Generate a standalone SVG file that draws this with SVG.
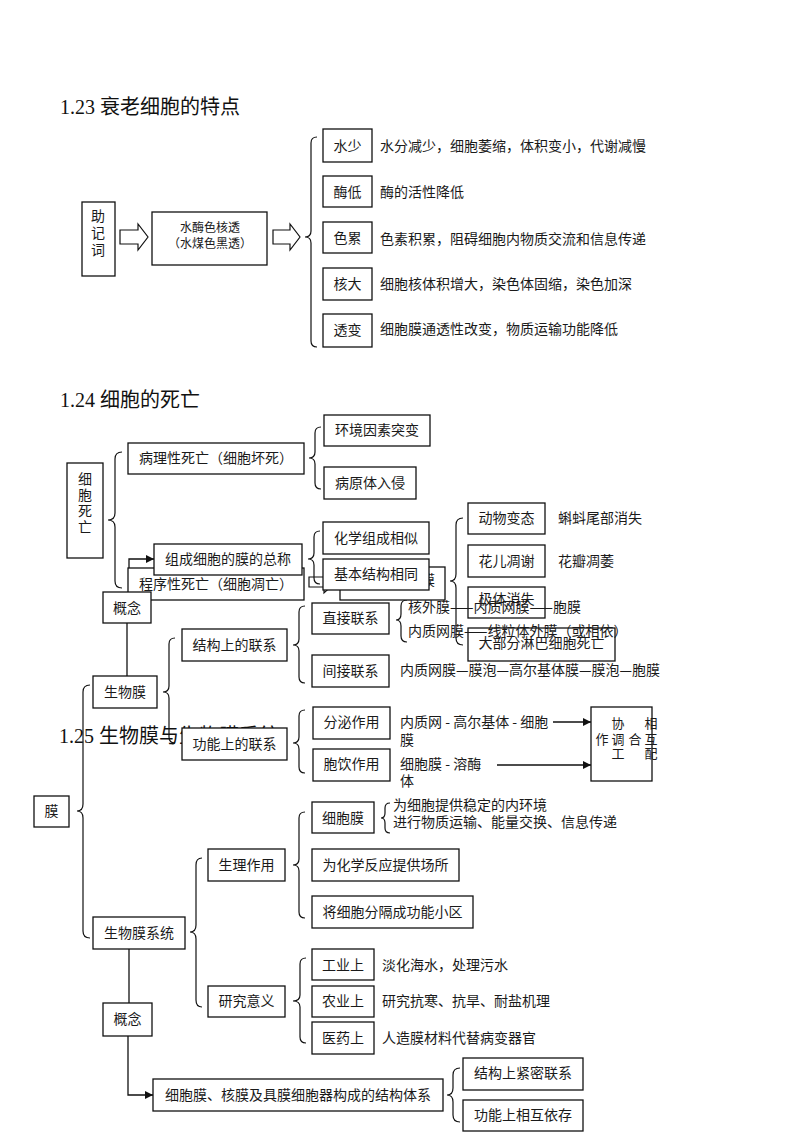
<svg xmlns="http://www.w3.org/2000/svg" width="800" height="1132" viewBox="0 0 800 1132">
<defs>
<style>
.bg{fill:#fff}
.b{fill:#fff;stroke:#111;stroke-width:1.3}
.t{font-family:"Noto Sans CJK SC","Noto Sans CJK JP",sans-serif;font-size:14px;fill:#1a1a1a}
.c{text-anchor:middle}
.s12{font-size:12px}
.s13{font-size:13px}
.ttl{font-family:"Liberation Serif","Noto Sans CJK SC",serif;font-size:20px;fill:#111}
.br{fill:none;stroke:#111;stroke-width:1.2}
.ln{fill:none;stroke:#111;stroke-width:1.3}
.ha{fill:#fff;stroke:#111;stroke-width:1.2}
</style>
<marker id="ah" viewBox="0 0 10 10" markerWidth="9" markerHeight="8" refX="10" refY="5" orient="auto" markerUnits="userSpaceOnUse">
<path d="M0,0 L10,5 L0,10 z" fill="#111"/>
</marker>
</defs>
<rect class="bg" x="0" y="0" width="800" height="1132"/>

<g id="titles">
<text class="ttl" x="60" y="114">1.23 衰老细胞的特点</text>
<text class="ttl" x="60" y="407">1.24 细胞的死亡</text>
<text class="ttl" x="59" y="743">1.25 生物膜与生物膜系统</text>
</g>

<g id="connectors">
<!-- 1.23 -->
<polygon class="ha" points="120,230 138,230 138,224 148,237 138,250 138,244 120,244"/>
<polygon class="ha" points="273,230 290,230 290,224 300,237 290,250 290,244 273,244"/>
<path class="br" d="M317,137 Q311,137 311,143 L311,231 Q311,237 305,237 Q311,237 311,243 L311,341 Q311,347 317,347"/>
<!-- 1.24 -->
<path class="br" d="M122,452 Q115,452 115,459 L115,513 Q115,520 108,520 Q115,520 115,527 L115,581 Q115,588 122,588"/>
<path class="br" d="M321,427 Q315,427 315,433 L315,452 Q315,458 309,458 Q315,458 315,464 L315,483 Q315,489 321,489"/>
<polygon class="ha" points="309,577 324,577 324,571 336,582 324,593 324,587 309,587"/>
<path class="br" d="M463,518 Q456,518 456,525 L456,574 Q456,581 450,581 Q456,581 456,588 L456,638 Q456,645 463,645"/>
<!-- 1.25 -->
<path class="br" d="M320,531 Q314,531 314,537 L314,553 Q314,559 308,559 Q314,559 314,565 L314,578 Q314,584 320,584"/>
<polyline class="ln" points="129,592 129,559 154,559" marker-end="url(#ah)"/>
<line class="ln" x1="127" y1="623" x2="127" y2="676"/>
<path class="br" d="M175,638 Q169,638 169,644 L169,686 Q169,692 163,692 Q169,692 169,698 L169,737 Q169,743 175,743"/>
<path class="br" d="M90,685 Q83,685 83,692 L83,804 Q83,811 77,811 Q83,811 83,818 L83,931 Q83,938 90,938"/>
<path class="br" d="M305,606 Q299,606 299,612 L299,639 Q299,645 293,645 Q299,645 299,651 L299,677 Q299,683 305,683"/>
<path class="br" d="M407,600 Q401,600 401,606 L401,614 Q401,620 396,620 Q401,620 401,626 L401,636 Q401,642 407,642"/>
<path class="br" d="M305,710 Q299,710 299,716 L299,737 Q299,743 293,743 Q299,743 299,749 L299,767 Q299,773 305,773"/>
<line class="ln" x1="553" y1="722" x2="591" y2="722" marker-end="url(#ah)"/>
<line class="ln" x1="497" y1="765" x2="591" y2="765" marker-end="url(#ah)"/>
<path class="br" d="M390,803 Q385,803 385,808 L385,813 Q385,818 381,818 Q385,818 385,823 L385,828 Q385,833 390,833"/>
<path class="br" d="M305,812 Q299,812 299,818 L299,859 Q299,865 293,865 Q299,865 299,871 L299,912 Q299,918 305,918"/>
<path class="br" d="M202,858 Q196,858 196,865 L196,925 Q196,932 190,932 Q196,932 196,939 L196,1000 Q196,1007 202,1007"/>
<path class="br" d="M306,958 Q300,958 300,964 L300,995 Q300,1001 293,1001 Q300,1001 300,1007 L300,1037 Q300,1043 306,1043"/>
<line class="ln" x1="129" y1="949" x2="129" y2="1003"/>
<polyline class="ln" points="128,1036 128,1095 153,1095" marker-end="url(#ah)"/>
<path class="br" d="M460,1068 Q453,1068 453,1075 L453,1088 Q453,1095 447,1095 Q453,1095 453,1102 L453,1115 Q453,1122 460,1122"/>
</g>

<g id="sec123">
<g id="n-zjc"><rect class="b" x="82" y="202" width="33" height="74"/>
<text class="t c" x="98" y="221">助</text><text class="t c" x="98" y="238">记</text><text class="t c" x="98" y="255">词</text></g>
<g id="n-mnemonic"><rect class="b" x="152" y="212" width="115" height="53"/>
<text class="t c s12" x="210" y="231.5">水酶色核透</text><text class="t c s12" x="210" y="247.5">（水煤色黑透）</text></g>
<g id="n-ss"><rect class="b" x="323" y="129" width="49" height="33"/><text class="t c" x="347.5" y="151">水少</text>
<text class="t" x="380" y="151">水分减少，细胞萎缩，体积变小，代谢减慢</text></g>
<g id="n-md"><rect class="b" x="323" y="176" width="49" height="31"/><text class="t c" x="347.5" y="197">酶低</text>
<text class="t" x="380" y="197">酶的活性降低</text></g>
<g id="n-sl"><rect class="b" x="323" y="222" width="49" height="31"/><text class="t c" x="347.5" y="243">色累</text>
<text class="t" x="380" y="244">色素积累，阻碍细胞内物质交流和信息传递</text></g>
<g id="n-hd"><rect class="b" x="323" y="268" width="49" height="32"/><text class="t c" x="347.5" y="289">核大</text>
<text class="t" x="380" y="289">细胞核体积增大，染色体固缩，染色加深</text></g>
<g id="n-tb"><rect class="b" x="323" y="314" width="49" height="33"/><text class="t c" x="347.5" y="335">透变</text>
<text class="t" x="380" y="334">细胞膜通透性改变，物质运输功能降低</text></g>
</g>

<g id="sec124">
<g id="n-xbsw"><rect class="b" x="67" y="463" width="36" height="95"/>
<text class="t c" x="85" y="484">细</text><text class="t c" x="85" y="500">胞</text><text class="t c" x="85" y="516">死</text><text class="t c" x="85" y="532">亡</text></g>
<g id="n-blx"><rect class="b" x="128" y="443" width="176" height="31"/><text class="t c" x="216" y="463">病理性死亡（细胞坏死）</text></g>
<g id="n-hj"><rect class="b" x="324" y="415" width="106" height="31"/><text class="t c" x="377" y="435">环境因素突变</text></g>
<g id="n-byt"><rect class="b" x="324" y="467" width="92" height="32"/><text class="t c" x="370" y="488">病原体入侵</text></g>
<g id="n-cxx"><rect class="b" x="128" y="568" width="176" height="32"/><text class="t c" x="216" y="589">程序性死亡（细胞凋亡）</text></g>
<g id="n-hidden"><rect class="b" x="340" y="567" width="105" height="33"/><text class="t" x="421" y="585">膜</text></g>
<g id="n-dwbt"><rect class="b" x="468" y="503" width="77" height="31"/><text class="t c" x="506.5" y="523">动物变态</text>
<text class="t" x="558" y="523">蝌蚪尾部消失</text></g>
<g id="n-hedx"><rect class="b" x="468" y="545" width="77" height="32"/><text class="t c" x="506.5" y="566">花儿凋谢</text>
<text class="t" x="558" y="566">花瓣凋萎</text></g>
<g id="n-jtxs"><rect class="b" x="468" y="587" width="77" height="31"/><text class="t c" x="506.5" y="604">极体消失</text></g>
<g id="n-lb"><rect class="b" x="468" y="628" width="147" height="33"/><text class="t c" x="541.5" y="648">大部分淋巴细胞死亡</text></g>
</g>

<g id="sec125">
<g id="n-zc"><rect class="b" x="154" y="544" width="148" height="31"/><text class="t c" x="228" y="564">组成细胞的膜的总称</text></g>
<g id="n-hx"><rect class="b" x="323" y="522" width="106" height="32"/><text class="t c" x="376" y="543">化学组成相似</text></g>
<g id="n-jb"><rect class="b" x="323" y="559" width="106" height="31"/><text class="t c" x="376" y="579">基本结构相同</text></g>
<g id="n-gn1"><rect class="b" x="103" y="592" width="48" height="31"/><text class="t c" x="127" y="613">概念</text></g>
<g id="n-swm"><rect class="b" x="93" y="676" width="64" height="32"/><text class="t c" x="125" y="697">生物膜</text></g>
<g id="n-mo"><rect class="b" x="34" y="796" width="35" height="31"/><text class="t c" x="51.5" y="816">膜</text></g>
<g id="n-jgs"><rect class="b" x="182" y="629" width="105" height="32"/><text class="t c" x="234.5" y="650">结构上的联系</text></g>
<g id="n-gns"><rect class="b" x="182" y="728" width="105" height="32"/><text class="t c" x="234.5" y="749">功能上的联系</text></g>
<g id="n-zjlx"><rect class="b" x="312" y="603" width="77" height="31"/><text class="t c" x="350.5" y="623">直接联系</text>
<text class="t" x="408" y="612">核外膜——内质网膜——胞膜</text>
<text class="t" x="408" y="636">内质网膜——线粒体外膜（或相依）</text></g>
<g id="n-jjlx"><rect class="b" x="312" y="655" width="77" height="32"/><text class="t c" x="350.5" y="676">间接联系</text>
<text class="t" x="400" y="675">内质网膜—膜泡—高尔基体膜—膜泡—胞膜</text></g>
<g id="n-fm"><rect class="b" x="313" y="707" width="77" height="32"/><text class="t c" x="351.5" y="727">分泌作用</text>
<text class="t" x="400" y="727">内质网 - 高尔基体 - 细胞</text><text class="t" x="400" y="745">膜</text></g>
<g id="n-by"><rect class="b" x="313" y="749" width="77" height="32"/><text class="t c" x="351.5" y="769">胞饮作用</text>
<text class="t" x="400" y="769">细胞膜 - 溶酶</text><text class="t" x="400" y="786">体</text></g>
<g id="n-xt"><rect class="b" x="591" y="707" width="61" height="74"/>
<text class="t c s13" x="618" y="728">协</text><text class="t c s13" x="651" y="728">相</text>
<text class="t c s13" x="602" y="744">作</text><text class="t c s13" x="618" y="744">调</text><text class="t c s13" x="635" y="744">合</text><text class="t c s13" x="651" y="744">互</text>
<text class="t c s13" x="618" y="758">工</text><text class="t c s13" x="651" y="758">配</text></g>
<g id="n-xbm"><rect class="b" x="312" y="802" width="62" height="31"/><text class="t c" x="343" y="823">细胞膜</text>
<text class="t" x="393" y="810">为细胞提供稳定的内环境</text>
<text class="t" x="393" y="827">进行物质运输、能量交换、信息传递</text></g>
<g id="n-hxfy"><rect class="b" x="312" y="849" width="147" height="32"/><text class="t c" x="385.5" y="870">为化学反应提供场所</text></g>
<g id="n-fg"><rect class="b" x="312" y="896" width="161" height="32"/><text class="t c" x="392.5" y="917">将细胞分隔成功能小区</text></g>
<g id="n-slzy"><rect class="b" x="208" y="849" width="77" height="32"/><text class="t c" x="246.5" y="870">生理作用</text></g>
<g id="n-swmxt"><rect class="b" x="93" y="917" width="92" height="32"/><text class="t c" x="139" y="938">生物膜系统</text></g>
<g id="n-yjyy"><rect class="b" x="208" y="986" width="77" height="31"/><text class="t c" x="246.5" y="1006">研究意义</text></g>
<g id="n-gy"><rect class="b" x="312" y="949" width="62" height="31"/><text class="t c" x="343" y="970">工业上</text>
<text class="t" x="382" y="970">淡化海水，处理污水</text></g>
<g id="n-ny"><rect class="b" x="312" y="986" width="62" height="31"/><text class="t c" x="343" y="1006">农业上</text>
<text class="t" x="382" y="1006">研究抗寒、抗旱、耐盐机理</text></g>
<g id="n-yy"><rect class="b" x="312" y="1022" width="62" height="32"/><text class="t c" x="343" y="1043">医药上</text>
<text class="t" x="382" y="1043">人造膜材料代替病变器官</text></g>
<g id="n-gn2"><rect class="b" x="103" y="1003" width="49" height="33"/><text class="t c" x="127.5" y="1024">概念</text></g>
<g id="n-jgtx"><rect class="b" x="153" y="1079" width="290" height="32"/><text class="t c" x="298" y="1100">细胞膜、核膜及具膜细胞器构成的结构体系</text></g>
<g id="n-jm"><rect class="b" x="463" y="1058" width="120" height="32"/><text class="t c" x="523" y="1078">结构上紧密联系</text></g>
<g id="n-yc"><rect class="b" x="463" y="1100" width="120" height="31"/><text class="t c" x="523" y="1120">功能上相互依存</text></g>
</g>
</svg>
